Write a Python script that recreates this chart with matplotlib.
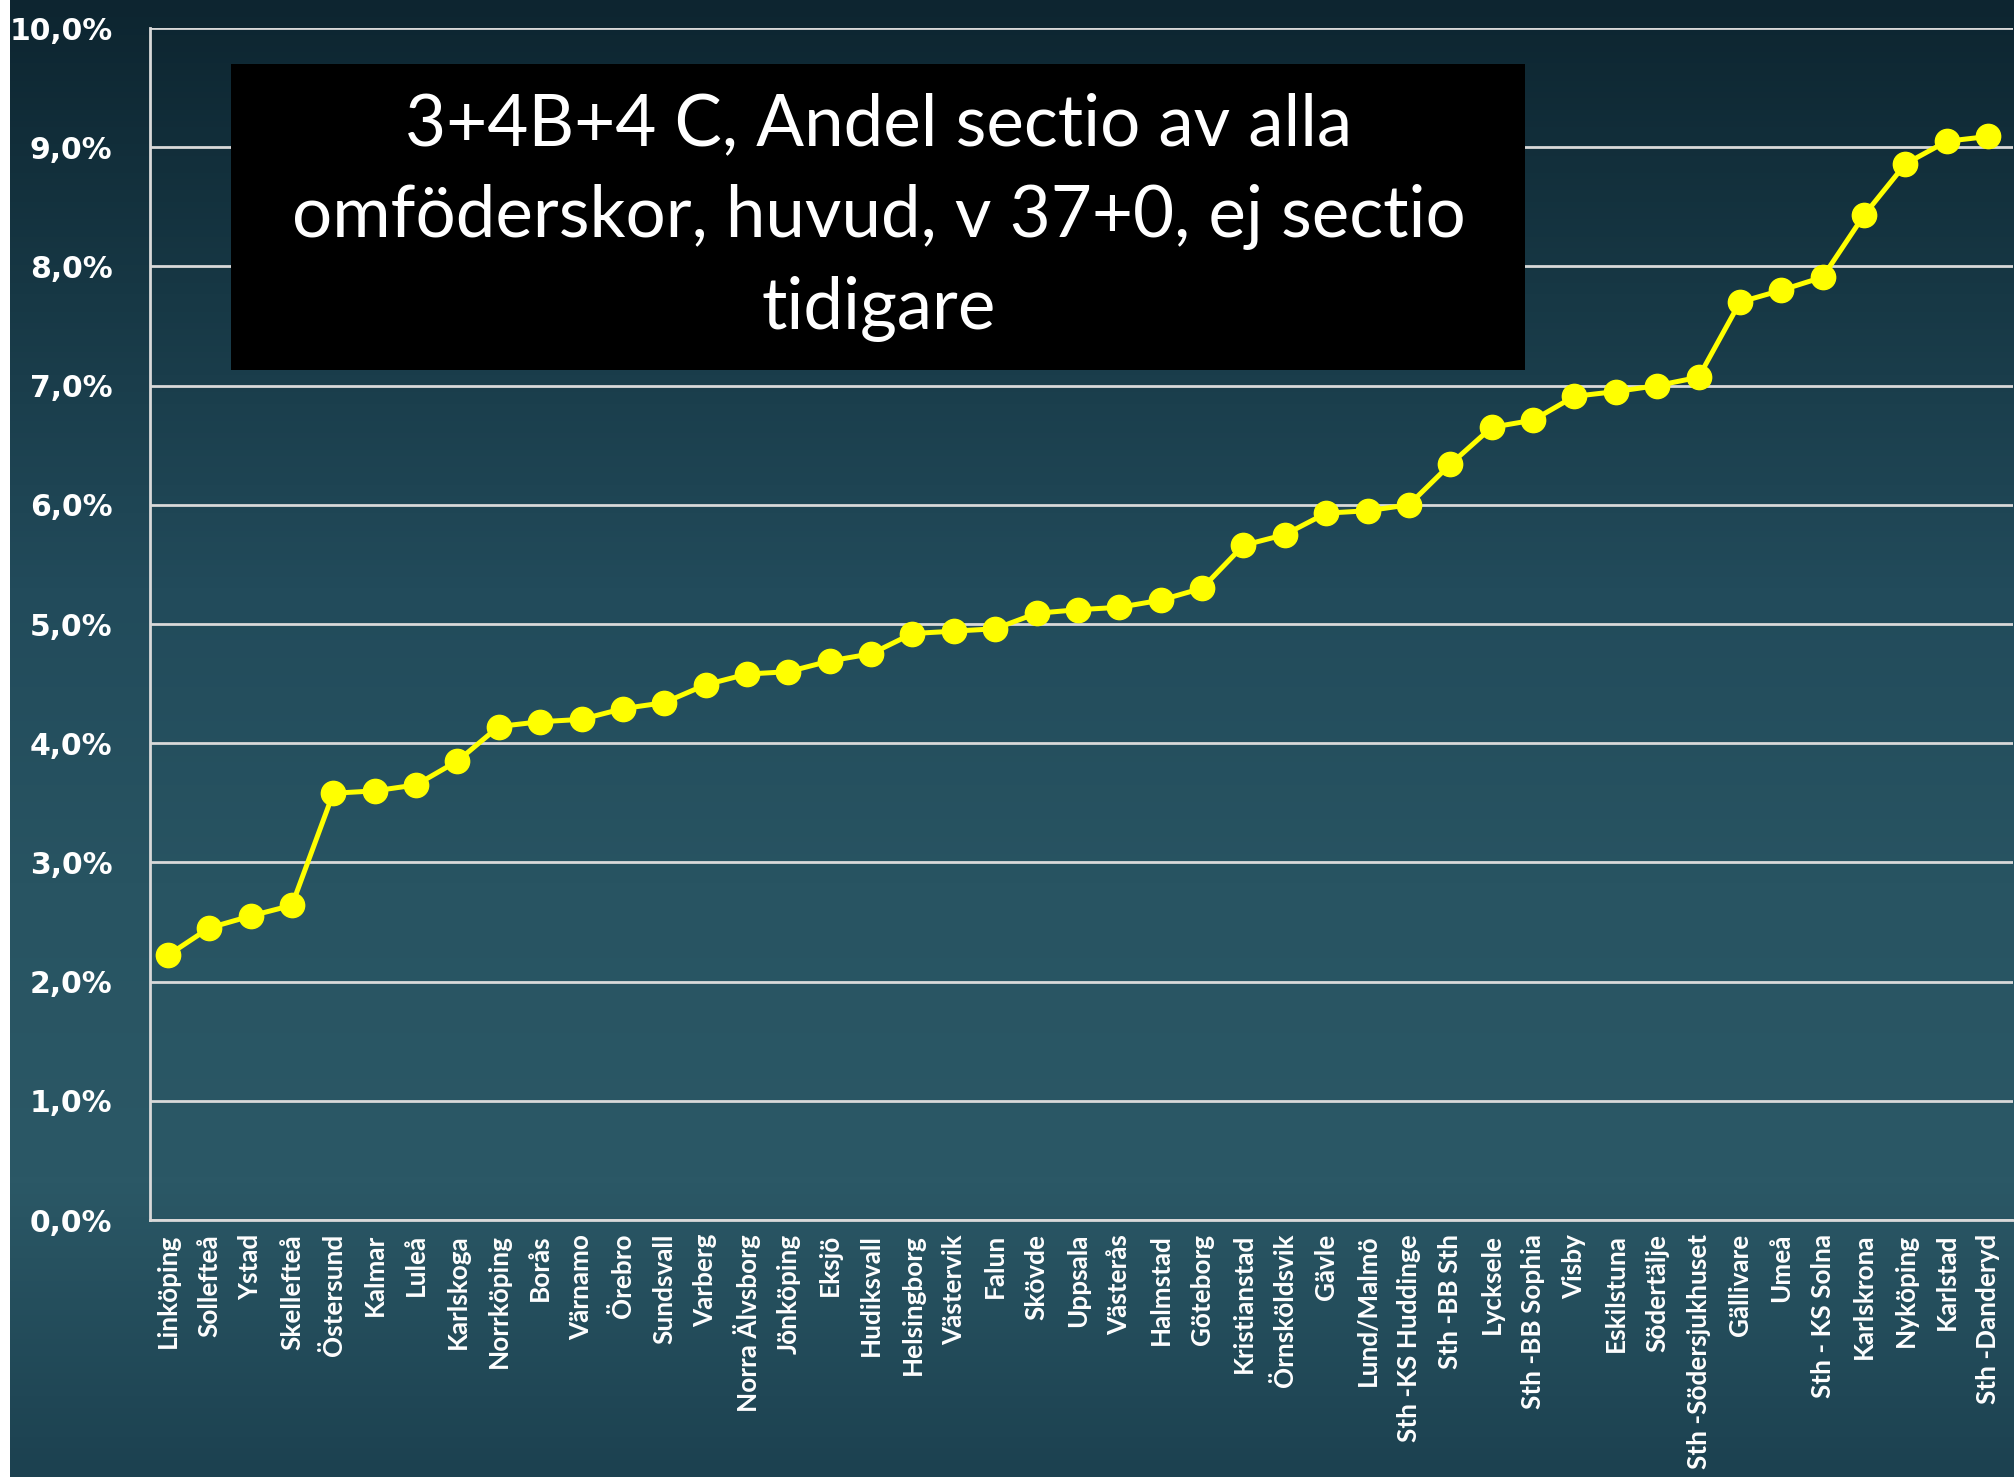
import matplotlib
matplotlib.use('Agg')
import matplotlib.pyplot as plt
import numpy as np
from matplotlib.colors import LinearSegmentedColormap
from matplotlib.patches import Rectangle
from matplotlib.ticker import FuncFormatter

# Data (percent)
sites = ['Linköping', 'Sollefteå', 'Ystad', 'Skellefteå', 'Östersund', 'Kalmar',
         'Luleå', 'Karlskoga', 'Norrköping', 'Borås', 'Värnamo', 'Örebro',
         'Sundsvall', 'Varberg', 'Norra Älvsborg', 'Jönköping', 'Eksjö',
         'Hudiksvall', 'Helsingborg', 'Västervik', 'Falun', 'Skövde', 'Uppsala',
         'Västerås', 'Halmstad', 'Göteborg', 'Kristianstad', 'Örnsköldsvik',
         'Gävle', 'Lund/Malmö', 'Sth -KS Huddinge', 'Sth -BB Sth', 'Lycksele',
         'Sth -BB Sophia', 'Visby', 'Eskilstuna', 'Södertälje',
         'Sth -Södersjukhuset', 'Gällivare', 'Umeå', 'Sth - KS Solna',
         'Karlskrona', 'Nyköping', 'Karlstad', 'Sth -Danderyd']
andel = [2.22, 2.45, 2.55, 2.64, 3.58, 3.60, 3.65, 3.85, 4.14, 4.18, 4.20, 4.29,
         4.34, 4.49, 4.58, 4.60, 4.69, 4.75, 4.92, 4.94, 4.96, 5.09, 5.12, 5.14,
         5.20, 5.30, 5.66, 5.75, 5.93, 5.95, 6.00, 6.34, 6.65, 6.71, 6.91, 6.95,
         7.00, 7.07, 7.70, 7.80, 7.91, 8.43, 8.86, 9.05, 9.09]
yticks = np.arange(0, 11, 1)
title = '3+4B+4 C, Andel sectio av alla\nomföderskor, huvud, v 37+0, ej sectio\ntidigare'

W, H = 2015, 1477
fig = plt.figure(figsize=(W / 100, H / 100), dpi=100, facecolor='white')

# dark teal backdrop
bg = fig.add_axes([10 / W, 0, 1 - 10 / W, 1], zorder=-1)
cmap = LinearSegmentedColormap.from_list(
    'slate', ['#0d2530', '#173845', '#224b5b', '#285462', '#2b5866', '#1c4150'])
grad = np.linspace(0, 1, 256).reshape(-1, 1)
bg.imshow(grad, aspect='auto', cmap=cmap, extent=[0, 1, 1, 0])
bg.axis('off')

ax = fig.add_axes([150 / W, 1 - 1220 / H, (2013 - 150) / W, (1220 - 28) / H])
ax.set_facecolor('none')
x = np.arange(len(sites))
ax.plot(x, andel, '-o', color='#ffff00', lw=3.6, ms=17.5, zorder=3)

ax.set_xlim(-0.43, len(sites) - 1 + 0.6)
ax.set_ylim(0, 10)
ax.set_yticks(yticks)
ax.yaxis.set_major_formatter(FuncFormatter(lambda v, p: f'{v:.1f}%'.replace('.', ',')))
ax.grid(axis='y', color='#d9d9d9', lw=2.0)
ax.set_axisbelow(True)
ax.set_xticks(x)
ax.set_xticklabels(sites, rotation=90, fontsize=18.8, fontweight='bold',
                   family='Lato', color='white', va='top')
ax.tick_params(axis='x', length=0, pad=10)
ax.tick_params(axis='y', length=0, pad=27, labelsize=21.5, labelcolor='white')
for lab in ax.get_yticklabels():
    lab.set_fontweight('bold')
for s in ['top', 'right']:
    ax.spines[s].set_visible(False)
for s in ['left', 'bottom']:
    ax.spines[s].set_color('#d9d9d9')
    ax.spines[s].set_linewidth(2.0)

# title box
fig.add_artist(Rectangle((231 / W, 1 - 370 / H), (1525 - 231) / W, (370 - 64) / H,
                         transform=fig.transFigure, facecolor='black',
                         edgecolor='none', zorder=5))
fig.text(879 / W, 1 - 217 / H, title, ha='center', va='center', color='white',
         fontsize=51, family='Lato', linespacing=1.5, zorder=6)

fig.savefig('out.png', dpi=100, facecolor=fig.get_facecolor())
